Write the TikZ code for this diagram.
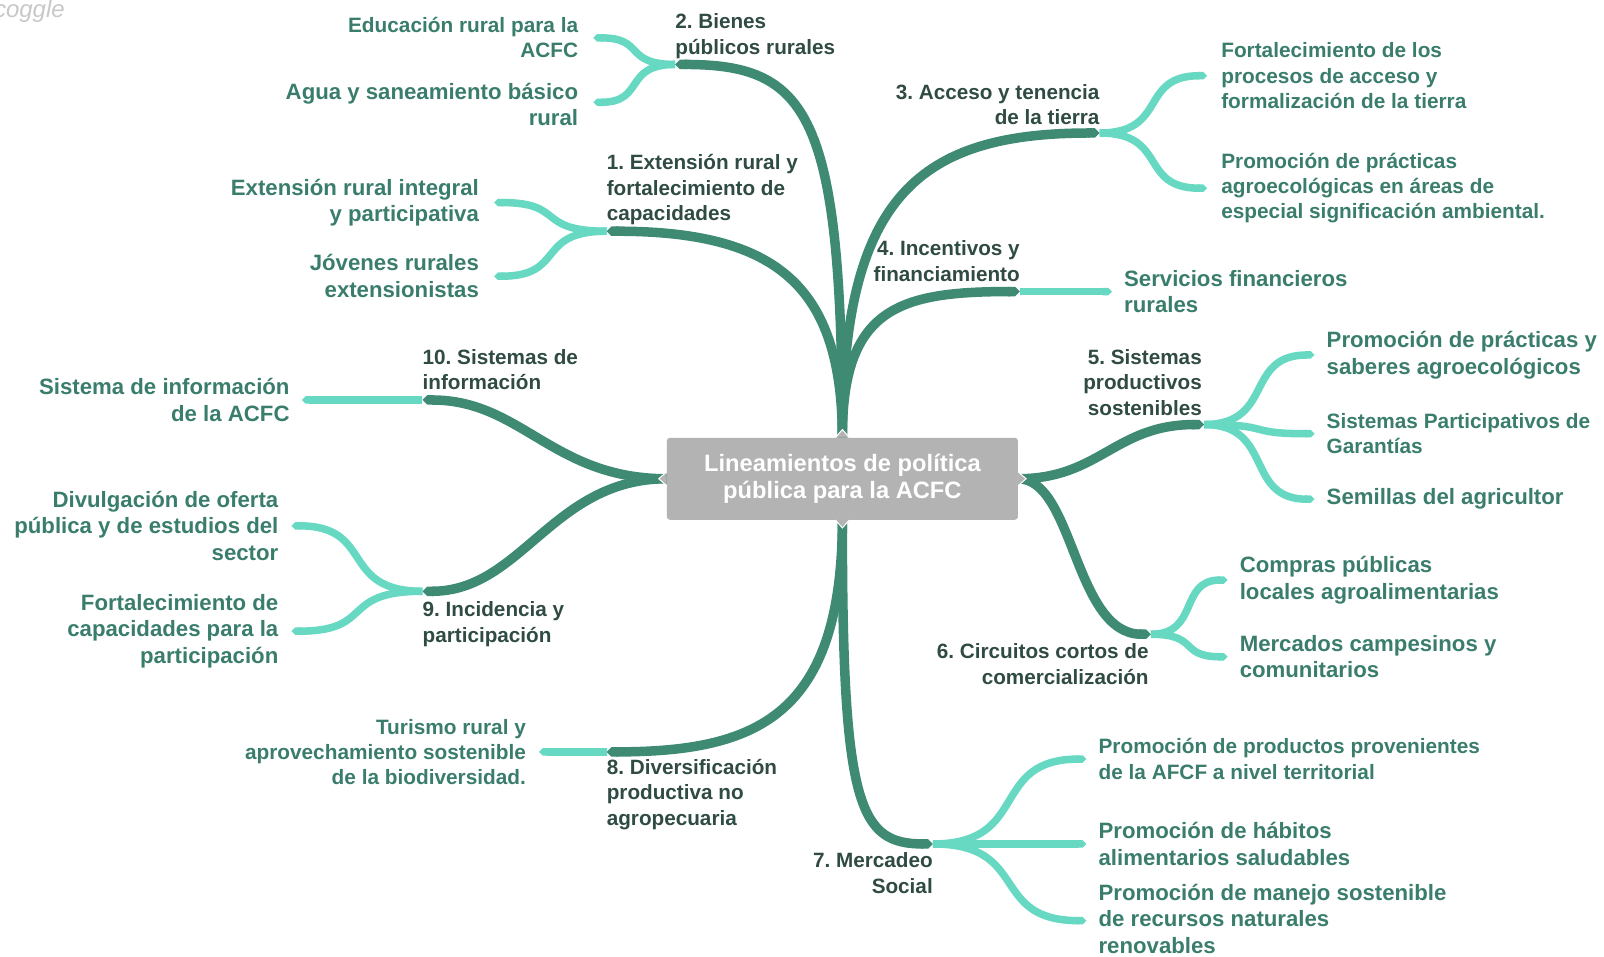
\documentclass[tikz,border=0pt]{standalone}
\usepackage{fontspec}
\setmainfont{Liberation Sans}
\frenchspacing
\usetikzlibrary{arrows.meta,calc,backgrounds}
\definecolor{darkbr}{HTML}{3E8A73}
\definecolor{lightbr}{HTML}{67D8C1}
\definecolor{leaftxt}{HTML}{3A7D6C}
\definecolor{labtxt}{HTML}{2F4B43}
\definecolor{boxgray}{HTML}{B3B3B3}
\definecolor{wmark}{HTML}{C8C8C8}
\newcommand\mmleaf[2]{\draw[leafline] let \p1=(#1), \p2=(#2) in (#1) .. controls ({\x1+0.64*(\x2-\x1)},\y1) and ({\x1+0.36*(\x2-\x1)},\y2) .. (#2);}
\tikzset{
  mainbr/.style={draw=darkbr, line width=9.5pt, -{Triangle Cap}},
  leafline/.style={draw=lightbr, line width=7.5pt, -{Triangle Cap}},
  leafL/.style={text=leaftxt, font=\fontsize{22.2}{26.6}\selectfont\bfseries, inner sep=0pt},
  leafS/.style={text=leaftxt, font=\fontsize{20.8}{25.2}\selectfont\bfseries, inner sep=0pt},
  lab/.style={text=labtxt, font=\fontsize{20.7}{25.6}\selectfont\bfseries, inner sep=0pt},
  centerbox/.style={fill=boxgray, rounded corners=3pt, minimum width=351pt, minimum height=82pt, text=white, align=center, font=\fontsize{23.7}{27.6}\selectfont\bfseries},
  notch/.style={fill=boxgray, draw=white, line width=1pt}
}
\begin{document}
\begin{tikzpicture}[x=1.023pt,y=-1.023pt]
\useasboundingbox (0,0) rectangle (1568,935);
\node[anchor=base west, inner sep=0pt, text=wmark, font=\fontsize{24}{26}\selectfont\itshape] (wm) at (-6,17) {coggle};

% center
\node[centerbox] (c) at (823.5,468) {Lineamientos de política\\pública para la ACFC};

% branch ends
\coordinate (e1) at (593,226);
\coordinate (e2) at (660,63);
\coordinate (e3) at (1075,130);
\coordinate (e4) at (997,285);
\coordinate (e5) at (1177,415);
\coordinate (e6) at (1125,620);
\coordinate (e7) at (912,825);
\coordinate (e8) at (593,735);
\coordinate (e9) at (413,578);
\coordinate (e10) at (413,391);

% leaf ends
\coordinate (f2a) at (580,37);
\coordinate (f2b) at (580,100);
\coordinate (f1a) at (483,198);
\coordinate (f1b) at (483,270);
\coordinate (f3a) at (1180,74);
\coordinate (f3b) at (1180,184);
\coordinate (f4a) at (1087,285);
\coordinate (f5a) at (1285,347);
\coordinate (f5b) at (1285,424);
\coordinate (f5c) at (1285,488);
\coordinate (f6a) at (1200,567);
\coordinate (f6b) at (1200,642);
\coordinate (f7a) at (1062,742);
\coordinate (f7b) at (1062,825);
\coordinate (f7c) at (1062,900);
\coordinate (f8a) at (527,735);
\coordinate (f9a) at (285,514);
\coordinate (f9b) at (285,617);
\coordinate (f10a) at (295,391);

\begin{scope}[on background layer]
\draw[mainbr] (c.north) .. controls (823,280) and (760,226) .. (e1);
\draw[mainbr] (c.north) .. controls (823,110) and (790,63) .. (e2);
\draw[mainbr] (c.north) .. controls (823,190) and (900,130) .. (e3);
\draw[mainbr] (c.north) .. controls (823,300) and (880,285) .. (e4);
\draw[mainbr] (c.east) .. controls (1075,468) and (1090,415) .. (e5);
\draw[mainbr] (c.east) .. controls (1050,468) and (1050,620) .. (e6);
\draw[mainbr] (c.south) .. controls (823,790) and (840,825) .. (e7);
\draw[mainbr] (c.south) .. controls (823,700) and (740,735) .. (e8);
\draw[mainbr] (c.west) .. controls (540,468) and (510,578) .. (e9);
\draw[mainbr] (c.west) .. controls (540,468) and (510,391) .. (e10);

\mmleaf{e1}{f1a}\mmleaf{e1}{f1b}
\mmleaf{e2}{f2a}\mmleaf{e2}{f2b}
\mmleaf{e3}{f3a}\mmleaf{e3}{f3b}
\mmleaf{e4}{f4a}
\mmleaf{e5}{f5a}\mmleaf{e5}{f5b}\mmleaf{e5}{f5c}
\mmleaf{e6}{f6a}\mmleaf{e6}{f6b}
\mmleaf{e7}{f7a}\mmleaf{e7}{f7b}\mmleaf{e7}{f7c}
\mmleaf{e8}{f8a}
\mmleaf{e9}{f9a}\mmleaf{e9}{f9b}
\mmleaf{e10}{f10a}
\end{scope}

% notches
\path[notch] ([xshift=-7pt]c.north) -- ([yshift=8pt]c.north) -- ([xshift=7pt]c.north);
\path[notch] ([xshift=-7pt]c.south) -- ([yshift=-8pt]c.south) -- ([xshift=7pt]c.south);
\path[notch] ([yshift=-7pt]c.west) -- ([xshift=-8pt]c.west) -- ([yshift=7pt]c.west);
\path[notch] ([yshift=-7pt]c.east) -- ([xshift=8pt]c.east) -- ([yshift=7pt]c.east);

% level-1 labels (base = last line)
\node[lab, anchor=base west, align=left] (l1) at (593,216) {1. Extensión rural y\\fortalecimiento de\\capacidades};
\node[lab, anchor=base west, align=left] (l2) at (660,53) {2. Bienes\\públicos rurales};
\node[lab, anchor=base east, align=right] (l3) at (1075,122) {3. Acceso y tenencia\\de la tierra};
\node[lab, anchor=base east, align=right] (l4) at (997,275) {4. Incentivos y\\financiamiento};
\node[lab, anchor=base east, align=right] (l5) at (1175,406) {5. Sistemas\\productivos\\sostenibles};
\node[lab, anchor=base east, align=right] (l6) at (1123,669) {6. Circuitos cortos de\\comercialización};
\node[lab, anchor=base east, align=right] (l7) at (912,873) {7. Mercadeo\\Social};
\node[lab, anchor=base west, align=left] (l8) at (593,807) {8. Diversificación\\productiva no\\agropecuaria};
\node[lab, anchor=base west, align=left] (l9) at (413,628) {9. Incidencia y\\participación};
\node[lab, anchor=base west, align=left] (l10) at (413,381) {10. Sistemas de\\información};

% leaves
\node[leafS, anchor=east, align=right] (t2a) at ([xshift=-15pt]f2a) {Educación rural para la\\ACFC};
\node[leafL, anchor=east, align=right] (t2b) at ([xshift=-15pt,yshift=-2pt]f2b) {Agua y saneamiento básico\\rural};
\node[leafL, anchor=east, align=right] (t1a) at ([xshift=-15pt]f1a) {Extensión rural integral\\y participativa};
\node[leafL, anchor=east, align=right] (t1b) at ([xshift=-15pt]f1b) {Jóvenes rurales\\extensionistas};
\node[leafS, anchor=west, align=left] (t3a) at ([xshift=14pt]f3a) {Fortalecimiento de los\\procesos de acceso y\\formalización de la tierra};
\node[leafS, anchor=west, align=left] (t3b) at ([xshift=14pt]f3b) {Promoción de prácticas\\agroecológicas en áreas de\\especial significación ambiental.};
\node[leafL, anchor=west, align=left] (t4a) at ([xshift=12pt]f4a) {Servicios financieros\\rurales};
\node[leafL, anchor=west, align=left] (t5a) at ([xshift=12pt]f5a) {Promoción de prácticas y\\saberes agroecológicos};
\node[leafS, anchor=west, align=left] (t5b) at ([xshift=12pt]f5b) {Sistemas Participativos de\\Garantías};
\node[leafL, anchor=west, align=left] (t5c) at ([xshift=12pt]f5c) {Semillas del agricultor};
\node[leafL, anchor=west, align=left] (t6a) at ([xshift=12pt]f6a) {Compras públicas\\locales agroalimentarias};
\node[leafL, anchor=west, align=left] (t6b) at ([xshift=12pt]f6b) {Mercados campesinos y\\comunitarios};
\node[leafS, anchor=west, align=left] (t7a) at ([xshift=12pt]f7a) {Promoción de productos provenientes\\de la AFCF a nivel territorial};
\node[leafL, anchor=west, align=left] (t7b) at ([xshift=12pt]f7b) {Promoción de hábitos\\alimentarios saludables};
\node[leafL, anchor=west, align=left] (t7c) at ([xshift=12pt,yshift=2pt]f7c) {Promoción de manejo sostenible\\de recursos naturales\\renovables};
\node[leafS, anchor=east, align=right] (t8a) at ([xshift=-13pt]f8a) {Turismo rural y\\aprovechamiento sostenible\\de la biodiversidad.};
\node[leafL, anchor=east, align=right] (t9a) at ([xshift=-13pt]f9a) {Divulgación de oferta\\pública y de estudios del\\sector};
\node[leafL, anchor=east, align=right] (t9b) at ([xshift=-13pt]f9b) {Fortalecimiento de\\capacidades para la\\participación};
\node[leafL, anchor=east, align=right] (t10a) at ([xshift=-12pt]f10a) {Sistema de información\\de la ACFC};
\end{tikzpicture}
\end{document}
